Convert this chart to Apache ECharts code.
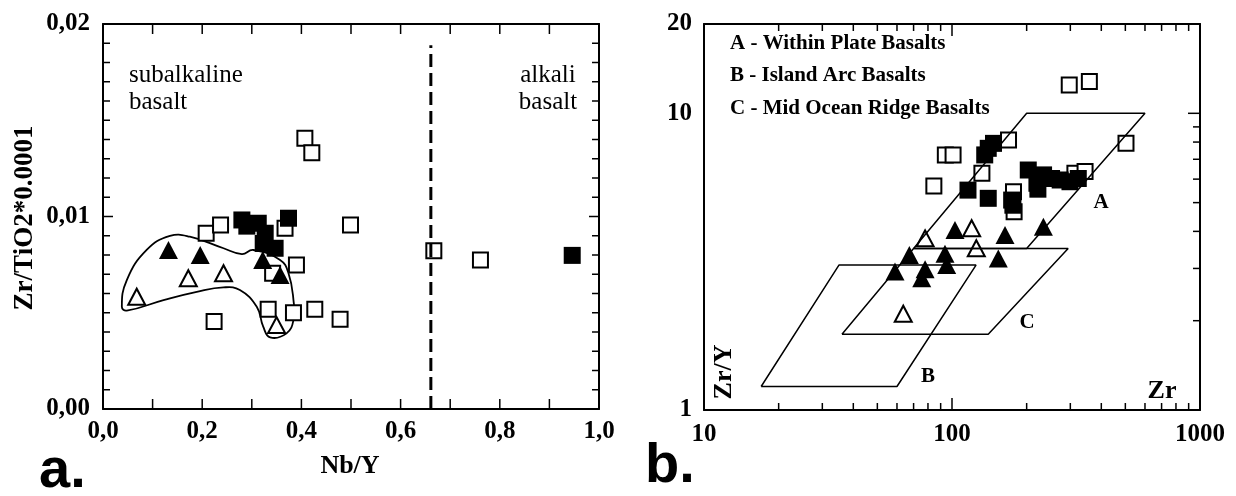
<!DOCTYPE html>
<html><head><meta charset="utf-8">
<script src="https://cdn.jsdelivr.net/npm/echarts@6/dist/echarts.min.js"></script>
<style>html,body{margin:0;padding:0;background:#fff;} #c{width:1236px;height:496px;}</style>
</head><body><div id="c"></div>
<script>
// ---------- Panel a : Nb/Y vs Zr/TiO2*0.0001 ----------
const aOpenSquares = [[0.407,0.01406],[0.421,0.01331],[0.208,0.00913],[0.237,0.00956],[0.367,0.00939],[0.499,0.00956],[0.390,0.00748],[0.342,0.00705],[0.333,0.00518],[0.384,0.00500],[0.427,0.00518],[0.478,0.00466],[0.224,0.00454],[0.667,0.00822],[0.761,0.00774]];
const aFilledSquares = [[0.280,0.00982],[0.290,0.00950],[0.313,0.00965],[0.327,0.00913],[0.323,0.00860],[0.347,0.00835],[0.374,0.00991],[0.946,0.00798]];
const aFilledTriangles = [[0.132,0.00826],[0.196,0.00800],[0.322,0.00774],[0.357,0.00696]];
const aOpenTriangles = [[0.068,0.00583],[0.172,0.00679],[0.243,0.00705],[0.350,0.00436]];
const aEnvelope = [[0.038,0.00531],[0.048,0.00670],[0.088,0.00826],[0.135,0.00899],[0.175,0.00895],[0.243,0.00835],[0.280,0.00805],[0.303,0.00826],[0.357,0.00774],[0.374,0.00705],[0.384,0.00566],[0.384,0.00462],[0.370,0.00393],[0.337,0.00372],[0.323,0.00428],[0.310,0.00531],[0.276,0.00618],[0.243,0.00632],[0.189,0.00609],[0.122,0.00566],[0.048,0.00511]];
const aDivider = [[0.661,0],[0.661,0.0189]];
const aXTicks = [0.1,0.2,0.3,0.4,0.5,0.6,0.7,0.8,0.9];
const aYTicks = [0.001,0.002,0.003,0.004,0.005,0.006,0.007,0.008,0.009,0.010,0.011,0.012,0.013,0.014,0.015,0.016,0.017,0.018,0.019];
const aYMajor = [0.010];

// ---------- Panel b : Zr vs Zr/Y (log-log) ----------
const bOpenSquares = [[297,12.45],[358,12.8],[503,7.92],[169,8.13],[94,7.24],[101,7.24],[84.5,5.69],[132,6.28],[177,5.44],[178,4.66],[313,6.28],[344,6.36]];
const bFilledSquares = [[140,7.62],[135.5,7.24],[147,7.92],[116,5.51],[140,5.17],[174,5.10],[176,4.90],[203,6.44],[220,5.81],[222,5.55],[234,6.20],[252,6.03],[273,5.96],[299,5.88],[323,6.03]];
const bFilledTriangles = [[102.8,4.04],[163.6,3.89],[233.6,4.15],[67.3,3.33],[93.7,3.36],[95.2,3.08],[58.9,2.93],[77.9,2.98],[75.5,2.78],[153.7,3.24]];
const bOpenTriangles = [[77.9,3.79],[120,4.10],[125.3,3.51],[63.6,2.11]];
const bFieldA = [[70,3.5],[200,3.5],[600,10],[200,10],[70,3.5]];
const bFieldB = [[17,1.2],[60,1.2],[125,3.08],[35,3.08],[17,1.2]];
const bFieldC = [[36,1.8],[140,1.8],[294,3.5],[70,3.5],[36,1.8]];
const bXTicks = [20,30,40,50,60,70,80,90,100,200,300,400,500,600,700,800,900];
const bXMajor = [100];
const bYTicks = [2,3,4,5,6,7,8,9,10];
const bYMajor = [10];

const SERIF = 'Liberation Serif';
const tickFont = {fontFamily: SERIF, fontWeight: 'bold', fontSize: 25, color: '#000'};
const axLine = {show: true, onZero: false, lineStyle: {color: '#000', width: 2}};
const noTick = {show: false};
const comma1 = v => v.toFixed(1).replace('.', ',');
const comma2 = v => v.toFixed(2).replace('.', ',');

const chart = echarts.init(document.getElementById('c'), null, {renderer: 'canvas'});

const sqOpen = {symbol: 'rect', symbolSize: 15, itemStyle: {color: '#fff', borderColor: '#000', borderWidth: 2, opacity: 1}};
const sqFill = {symbol: 'rect', symbolSize: 17, itemStyle: {color: '#000', borderColor: '#000', borderWidth: 0, opacity: 1}};
const trOpen = {symbol: 'triangle', symbolSize: [17, 16], itemStyle: {color: '#fff', borderColor: '#000', borderWidth: 2, opacity: 1}};
const trFill = {symbol: 'triangle', symbolSize: [19, 18], itemStyle: {color: '#000', borderWidth: 0, opacity: 1}};

function scat(data, style, xi, yi) {
  return Object.assign({type: 'scatter', data: data, xAxisIndex: xi, yAxisIndex: yi, silent: true}, style);
}
function poly(data, xi, yi) {
  return {type: 'line', data: data, xAxisIndex: xi, yAxisIndex: yi, symbol: 'none', silent: true,
          lineStyle: {color: '#000', width: 1.5}};
}
// inward ticks, positioned through the axis scales
function xTickSeries(xi, yi, ticks, major, yLo, yHi, lenMin, lenMaj) {
  return {type: 'custom', xAxisIndex: xi, yAxisIndex: yi, silent: true, z: 5,
    data: ticks.map(v => [v, yLo]),
    renderItem: (p, api) => {
      const v = api.value(0);
      const len = major.indexOf(v) >= 0 ? lenMaj : lenMin;
      const b = api.coord([v, yLo]);
      const t = api.coord([v, yHi]);
      return {type: 'group', children: [
        {type: 'line', shape: {x1: b[0], y1: b[1], x2: b[0], y2: b[1] - len}, style: {stroke: '#000', lineWidth: 1.5}},
        {type: 'line', shape: {x1: t[0], y1: t[1], x2: t[0], y2: t[1] + len}, style: {stroke: '#000', lineWidth: 1.5}}
      ]};
    }};
}
function yTickSeries(xi, yi, ticks, major, xLo, xHi, lenMin, lenMaj, withLeft) {
  return {type: 'custom', xAxisIndex: xi, yAxisIndex: yi, silent: true, z: 5,
    data: ticks.map(v => [xLo, v]),
    renderItem: (p, api) => {
      const v = api.value(1);
      const len = major.indexOf(v) >= 0 ? lenMaj : lenMin;
      const l = api.coord([xLo, v]);
      const r = api.coord([xHi, v]);
      const ch = [{type: 'line', shape: {x1: r[0], y1: r[1], x2: r[0] - len, y2: r[1]}, style: {stroke: '#000', lineWidth: 1.5}}];
      if (withLeft) ch.push({type: 'line', shape: {x1: l[0], y1: l[1], x2: l[0] + len, y2: l[1]}, style: {stroke: '#000', lineWidth: 1.5}});
      return {type: 'group', children: ch};
    }};
}
function textEl(t, x, y, opt) {
  return Object.assign({type: 'text', x: x, y: y, silent: true,
    style: Object.assign({text: t, fill: '#000', align: 'center', verticalAlign: 'middle',
      textAlign: 'center', textVerticalAlign: 'middle',
      font: 'bold 26px "Liberation Serif"'}, opt || {})});
}

const option = {
  animation: false,
  backgroundColor: '#fff',
  grid: [
    {left: 103, top: 24, width: 496, height: 385},
    {left: 704, top: 24, width: 496, height: 386}
  ],
  xAxis: [
    {type: 'value', gridIndex: 0, min: 0, max: 1, interval: 0.2, position: 'bottom', axisLine: axLine,
      splitLine: {show: false}, axisTick: noTick,
      axisLabel: Object.assign({margin: 10, formatter: comma1, showMinLabel: true, showMaxLabel: true}, tickFont)},
    {type: 'value', gridIndex: 0, min: 0, max: 1, interval: 0.2, position: 'top', axisLine: axLine,
      splitLine: {show: false}, axisTick: noTick, axisLabel: {show: false}},
    {type: 'log', logBase: 10, gridIndex: 1, min: 10, max: 1000, position: 'bottom', axisLine: axLine,
      splitLine: {show: false}, axisTick: noTick,
      axisLabel: Object.assign({margin: 12, formatter: v => String(Math.round(v))}, tickFont)},
    {type: 'log', logBase: 10, gridIndex: 1, min: 10, max: 1000, position: 'top', axisLine: axLine,
      splitLine: {show: false}, axisTick: noTick, axisLabel: {show: false}}
  ],
  yAxis: [
    {type: 'value', gridIndex: 0, min: 0, max: 0.02, interval: 0.01, position: 'left', axisLine: axLine,
      splitLine: {show: false}, axisTick: noTick,
      axisLabel: Object.assign({margin: 13, formatter: comma2, showMinLabel: true, showMaxLabel: true}, tickFont)},
    {type: 'value', gridIndex: 0, min: 0, max: 0.02, interval: 0.01, position: 'right', axisLine: axLine,
      splitLine: {show: false}, axisTick: noTick, axisLabel: {show: false}},
    {type: 'log', logBase: 10, gridIndex: 1, min: 1, max: 20, position: 'left', axisLine: axLine,
      splitLine: {show: false}, axisTick: noTick,
      axisLabel: Object.assign({margin: 12, showMaxLabel: true, showMinLabel: true,
        formatter: v => String(Math.round(v))}, tickFont)},
    {type: 'log', logBase: 10, gridIndex: 1, min: 1, max: 20, position: 'right', axisLine: axLine,
      splitLine: {show: false}, axisTick: noTick, axisLabel: {show: false}}
  ],
  series: [
    // panel a
    xTickSeries(0, 0, aXTicks, [], 0, 0.02, 10, 10),
    yTickSeries(0, 0, aYTicks, aYMajor, 0, 1, 7, 10, true),
    {type: 'custom', xAxisIndex: 0, yAxisIndex: 0, data: [[0, 0]], silent: true,
      renderItem: (p, api) => ({type: 'polygon',
        shape: {points: aEnvelope.map(pt => api.coord(pt)), smooth: 0.45},
        style: {fill: 'none', stroke: '#000', lineWidth: 1.8}})},
    {type: 'line', data: aDivider, xAxisIndex: 0, yAxisIndex: 0, symbol: 'none', silent: true,
      lineStyle: {color: '#000', width: 3, type: [13, 6]}},
    scat(aOpenSquares, sqOpen, 0, 0),
    scat(aOpenTriangles, trOpen, 0, 0),
    scat(aFilledSquares, sqFill, 0, 0),
    scat(aFilledTriangles, trFill, 0, 0),
    // panel b
    xTickSeries(2, 2, bXTicks, bXMajor, 1, 20, 7, 12),
    yTickSeries(2, 2, bYTicks, bYMajor, 10, 1000, 7, 12, false),
    poly(bFieldA, 2, 2),
    poly(bFieldB, 2, 2),
    poly(bFieldC, 2, 2),
    scat(bOpenSquares, sqOpen, 2, 2),
    scat(bOpenTriangles, trOpen, 2, 2),
    scat(bFilledSquares, sqFill, 2, 2),
    scat(bFilledTriangles, trFill, 2, 2)
  ],
  graphic: [
    textEl('subalkaline', 129, 75, {align: 'left', textAlign: 'left', font: '25px "Liberation Serif"'}),
    textEl('basalt', 129, 102, {align: 'left', textAlign: 'left', font: '25px "Liberation Serif"'}),
    textEl('alkali', 548, 75, {font: '25px "Liberation Serif"'}),
    textEl('basalt', 548, 102, {font: '25px "Liberation Serif"'}),
    Object.assign(textEl('Zr/TiO2*0.0001', 0, 0, {font: 'bold 27px "Liberation Serif"'}), {x: 25, y: 218, rotation: Math.PI / 2}),
    textEl('Nb/Y', 350, 466),
    textEl('a.', 39, 472, {align: 'left', textAlign: 'left', font: 'bold 56px "Liberation Sans"'}),
    textEl('b.', 645, 467, {align: 'left', textAlign: 'left', font: 'bold 56px "Liberation Sans"'}),
    textEl('A - Within Plate Basalts', 730, 44, {align: 'left', textAlign: 'left', font: 'bold 21px "Liberation Serif"'}),
    textEl('B - Island Arc Basalts', 730, 76, {align: 'left', textAlign: 'left', font: 'bold 21px "Liberation Serif"'}),
    textEl('C - Mid Ocean Ridge Basalts', 730, 109, {align: 'left', textAlign: 'left', font: 'bold 21px "Liberation Serif"'}),
    textEl('A', 1101, 203, {font: 'bold 21px "Liberation Serif"'}),
    textEl('B', 928, 377, {font: 'bold 21px "Liberation Serif"'}),
    textEl('C', 1027, 323, {font: 'bold 21px "Liberation Serif"'}),
    Object.assign(textEl('Zr/Y', 0, 0), {x: 724, y: 372, rotation: Math.PI / 2}),
    textEl('Zr', 1162, 391)
  ]
};
chart.setOption(option);
</script>
</body></html>
